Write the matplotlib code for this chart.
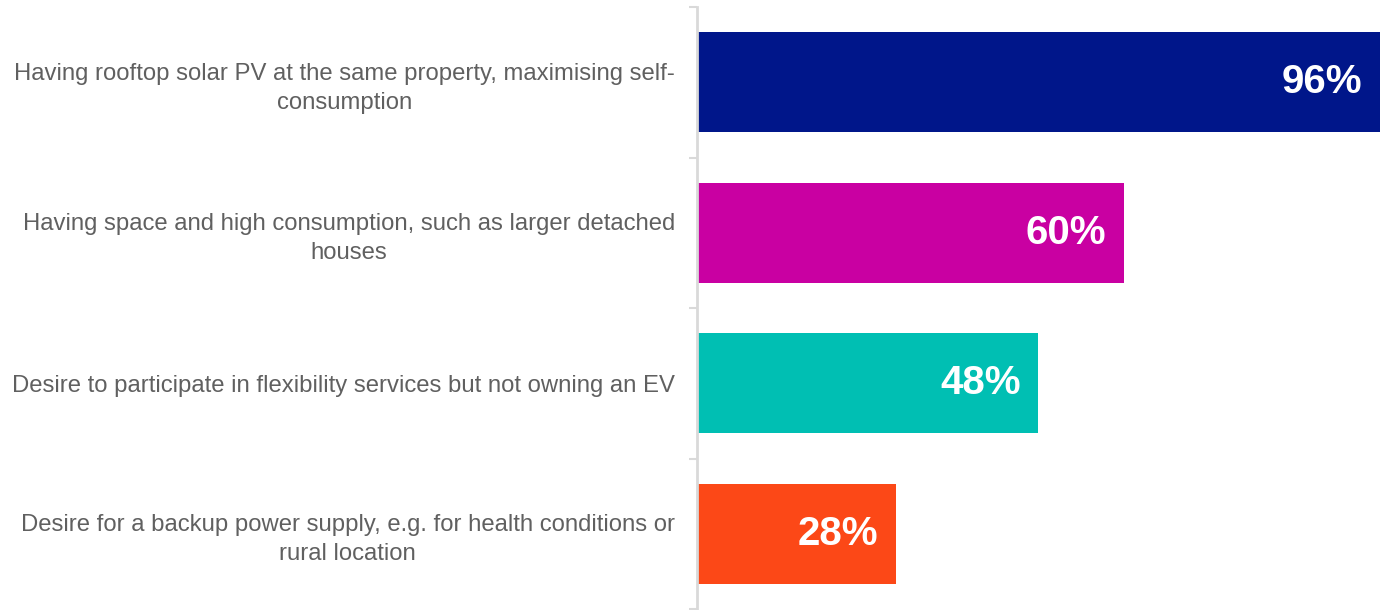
import numpy as np
import matplotlib.pyplot as plt

plt.rcParams['font.family'] = ['Liberation Sans', 'DejaVu Sans']

categories = [
    "Having rooftop solar PV at the same property, maximising self-\nconsumption",
    "Having space and high consumption, such as larger detached\nhouses",
    "Desire to participate in flexibility services but not owning an EV",
    "Desire for a backup power supply, e.g. for health conditions or\nrural location",
]
values = [96, 60, 48, 28]
colors = ['#00168A', '#C900A2', '#00BFB3', '#FC4817']

fig = plt.figure(figsize=(13.84, 6.10), dpi=100)
ax = fig.add_axes([697 / 1384, 1 / 610, 684 / 1384, 602 / 610])

y = np.arange(len(categories))
ax.barh(y, values, height=0.665, color=colors)

for yi, v in zip(y, values):
    ax.text(v - 2.5, yi, f"{v}%", ha='right', va='center', color='white',
            fontsize=29, fontweight='bold')

ax.set_xlim(0, 96.2)
ax.set_ylim(3.5, -0.5)

ax.set_yticks(y)
ax.set_yticklabels(categories, fontsize=17.2, color='#606060', multialignment='center',
                   linespacing=1.4)
ax.tick_params(axis='y', which='major', length=0, pad=16)
ax.set_yticks(np.arange(-0.5, 4, 1), minor=True)
ax.tick_params(axis='y', which='minor', length=6, width=1.5, color='#d9d9d9')
ax.set_xticks([])

for s in ['top', 'right', 'bottom']:
    ax.spines[s].set_visible(False)
ax.spines['left'].set_color('#d9d9d9')
ax.spines['left'].set_linewidth(2)

fig.savefig('out.png', dpi=100)
